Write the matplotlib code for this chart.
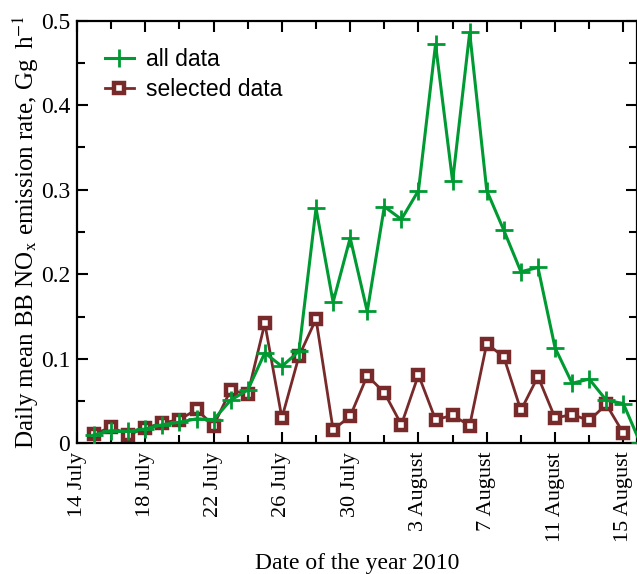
import matplotlib
matplotlib.use("Agg")
import matplotlib.pyplot as plt
import matplotlib.dates as mdates
import numpy as np
import pandas as pd

# daily means, 15 July .. 16 August 2010
dates = pd.date_range("2010-07-15", "2010-08-16", freq="D")

all_data = [
    0.010, 0.015, 0.014, 0.017, 0.022, 0.025, 0.029, 0.028, 0.051, 0.063,
    0.107, 0.091, 0.109, 0.278, 0.167, 0.243, 0.156, 0.280, 0.265, 0.299,
    0.472, 0.310, 0.486, 0.299, 0.252, 0.203, 0.208, 0.113, 0.071, 0.076,
    0.051, 0.047, 0.000,
]
selected_data = [
    0.011, 0.019, 0.010, 0.018, 0.024, 0.028, 0.040, 0.021, 0.063, 0.058,
    0.142, 0.030, 0.103, 0.147, 0.016, 0.032, 0.080, 0.060, 0.022, 0.081,
    0.028, 0.033, 0.021, 0.118, 0.102, 0.039, 0.079, 0.030, 0.034, 0.027,
    0.046, 0.012,
]

tick_dates = pd.date_range("2010-07-14", "2010-08-15", freq="4D")
minor_dates = pd.date_range("2010-07-16", "2010-08-15", freq="4D")
tick_labels = [f"{d.day} {d.strftime('%B')}" for d in tick_dates]

GREEN = "#009a33"
BROWN = "#782a2a"

plt.rcParams["font.family"] = ["Liberation Serif", "DejaVu Serif"]
plt.rcParams["mathtext.fontset"] = "stix"

fig = plt.figure(figsize=(6.37, 5.74), dpi=100)
ax = fig.add_axes([0.1209, 0.2277, 0.8791, 0.7363])

ax.plot(dates, all_data, color=GREEN, lw=2.2, marker="+", ms=13, mew=2.0,
        label="all data", zorder=3)
ax.plot(dates[:len(selected_data)], selected_data, color=BROWN, lw=2.0,
        marker="s", ms=7, mew=3.2, mfc="white", mec=BROWN,
        label="selected data", zorder=2)

start = pd.Timestamp("2010-07-14")
ax.set_xlim(start, start + pd.Timedelta(days=32.8))
ax.set_ylim(0, 0.5)

ax.set_xticks(mdates.date2num(tick_dates))
ax.set_xticks(mdates.date2num(minor_dates), minor=True)
ax.set_xticklabels(tick_labels, rotation=90, va="top", fontsize=16)
ax.set_yticks(np.arange(0, 0.51, 0.1))
ax.set_yticks(np.arange(0.05, 0.5, 0.1), minor=True)
ax.set_yticklabels(["0", "0.1", "0.2", "0.3", "0.4", "0.5"], fontsize=17)

ax.tick_params(which="both", direction="in", top=True, right=True, width=1.5)
ax.tick_params(which="major", length=8)
ax.tick_params(which="minor", length=5.5)
ax.tick_params(axis="x", which="major", pad=6)
ax.tick_params(axis="y", which="major", pad=5)

for spine in ax.spines.values():
    spine.set_linewidth(1.6)

ax.set_xlabel("Date of the year 2010", fontsize=17, labelpad=8)
ax.set_ylabel(r"Daily mean BB NO$_\mathrm{x}$ emission rate, Gg$\;\;$h$^{\mathrm{-1}}$",
              fontsize=18, labelpad=0)

ax.legend(loc="upper left", frameon=False, numpoints=1, handlelength=1.3,
          handletextpad=0.5, labelspacing=0.3, borderaxespad=0.8,
          prop={"family": ["Liberation Sans"], "size": 16.5})

fig.savefig("out.png", dpi=100)
